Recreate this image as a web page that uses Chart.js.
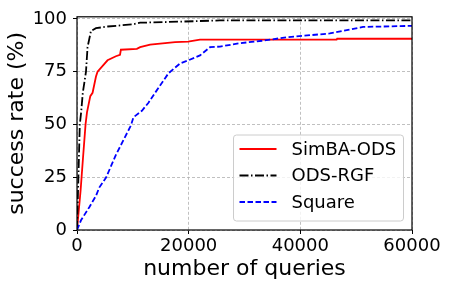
<!DOCTYPE html>
<html>
<head>
<meta charset="utf-8">
<script src="https://cdn.jsdelivr.net/npm/chart.js@4.4.0/dist/chart.umd.min.js"></script>
<style>html,body{margin:0;padding:0;background:#fff;overflow:hidden}</style>
</head>
<body>
<canvas id="chart" width="450" height="287"></canvas>
<script>
// queries vs success rate
const simbaQ    = [0, 640, 1070, 1540, 1790, 2380, 2790, 3400, 3680, 5470, 6970, 7700, 7860, 10720, 11310, 13100, 17570, 19890, 22030, 46500, 46600, 60000];
const simbaRate = [0, 18.6, 34, 50.3, 55.7, 63.4, 65, 72.7, 75, 80.4, 82.3, 83, 85.4, 85.8, 86.6, 87.8, 89, 89.2, 90.2, 90.2, 90.6, 90.6];

const odsQ    = [0, 150, 300, 500, 750, 1040, 1610, 1890, 2500, 3400, 5470, 9940, 11310, 18460, 25600, 60000];
const odsRate = [0, 15, 30, 50, 56, 65, 75, 86.6, 94.3, 95.6, 96.4, 97.4, 98.2, 98.7, 99.3, 99.3];

const squareQ    = [0, 715, 2200, 3400, 3985, 5180, 6970, 9650, 10110, 11620, 12800, 13990, 16370, 18460, 19940, 22030, 23820, 25600, 29180, 33350, 37530, 45270, 47590, 51220, 60000];
const squareRate = [0, 4.6, 10.8, 16.2, 20.1, 24.7, 35.6, 49.5, 53.4, 56.5, 60.3, 65, 74.2, 78.9, 80.4, 82.7, 86.6, 86.9, 88.5, 89.7, 91.3, 93.1, 94.3, 96.2, 96.7];

const seriesNames = ["SimBA-ODS", "ODS-RGF", "Square"];
const xTicks = [0, 20000, 40000, 60000];
const yTicks = [0, 25, 50, 75, 100];

const FONT = "'DejaVu Sans', sans-serif";

function pts(xs, ys) {
    return xs.map((x, i) => ({ x: x, y: ys[i] }));
}

// box around the plot + legend inside bottom right
const framePlugin = {
    id: 'frame',
    afterDraw(chart) {
        const ctx = chart.ctx;
        const a = chart.chartArea;
        ctx.save();
        ctx.strokeStyle = '#000';
        ctx.lineWidth = 1.2;
        ctx.strokeRect(a.left, a.top, a.right - a.left, a.bottom - a.top);

        const bx = 233.5, by = 135, bw = 170, bh = 86;
        ctx.beginPath();
        ctx.roundRect(bx, by, bw, bh, 3);
        ctx.fillStyle = 'rgba(255,255,255,0.8)';
        ctx.fill();
        ctx.strokeStyle = '#cccccc';
        ctx.lineWidth = 1;
        ctx.stroke();

        ctx.font = "18px " + FONT;
        ctx.textBaseline = 'middle';
        ctx.fillStyle = '#000';
        seriesNames.forEach((name, i) => {
            const ds = chart.data.datasets.find(d => d.label === name);
            const y = 149 + i * 26.5;
            ctx.beginPath();
            ctx.setLineDash(ds.borderDash || []);
            ctx.strokeStyle = ds.borderColor;
            ctx.lineWidth = ds.borderWidth;
            ctx.moveTo(239.5, y);
            ctx.lineTo(276.5, y);
            ctx.stroke();
            ctx.setLineDash([]);
            ctx.fillText(name, 291.5, y + 1);
        });
        ctx.restore();
    }
};

const gridOpts = { color: '#b0b0b0', lineWidth: 0.8, tickLength: 4, tickColor: '#000', tickBorderDash: [], tickWidth: 1 };
const borderOpts = { display: false, dash: [3, 2] };

new Chart(document.getElementById('chart'), {
    type: 'scatter',
    data: {
        datasets: [
            { label: seriesNames[0], data: pts(simbaQ, simbaRate), borderColor: '#ff0000', borderWidth: 1.8, order: 2 },
            { label: seriesNames[1], data: pts(odsQ, odsRate), borderColor: '#000000', borderWidth: 1.8, borderDash: [9, 2.5, 1.5, 2.5], order: 1 },
            { label: seriesNames[2], data: pts(squareQ, squareRate), borderColor: '#0000ff', borderWidth: 1.8, borderDash: [5.5, 2.5], order: 0 }
        ].map(d => Object.assign(d, { showLine: true, pointRadius: 0, tension: 0, fill: false }))
    },
    options: {
        responsive: false,
        animation: false,
        layout: { padding: { left: 0, top: 13, right: 38, bottom: 0 } },
        plugins: { legend: { display: false }, tooltip: { enabled: false } },
        scales: {
            x: {
                type: 'linear', min: 0, max: 60000,
                afterBuildTicks: s => { s.ticks = xTicks.map(v => ({ value: v })); },
                afterFit: s => { s.height = 57; },
                grid: gridOpts,
                border: borderOpts,
                ticks: { color: '#000', font: { family: FONT, size: 18 }, padding: 2, maxRotation: 0, callback: v => String(v) },
                title: { display: true, text: 'number of queries', color: '#000', font: { family: FONT, size: 22 }, padding: { top: 0, bottom: 5 } }
            },
            y: {
                type: 'linear', min: 0, max: 101,
                afterBuildTicks: s => { s.ticks = yTicks.map(v => ({ value: v })); },
                afterFit: s => { s.width = 77; },
                grid: gridOpts,
                border: borderOpts,
                ticks: { color: '#000', font: { family: FONT, size: 18 }, padding: 6, callback: v => String(v) },
                title: { display: true, text: 'success rate (%)', color: '#000', font: { family: FONT, size: 22 }, padding: { top: 4, bottom: 0 } }
            }
        }
    },
    plugins: [framePlugin]
});
</script>
</body>
</html>
